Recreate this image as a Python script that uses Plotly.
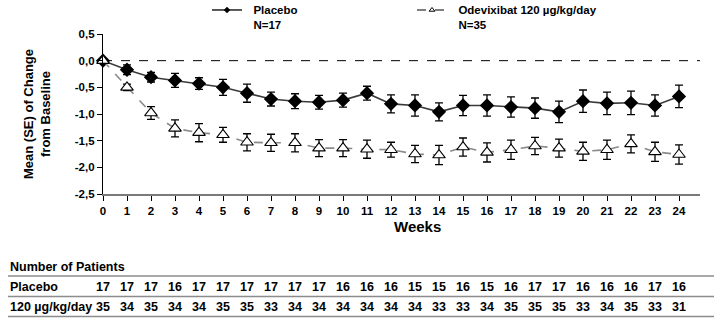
import plotly.graph_objects as go

# Weekly change from baseline, mean and standard error
weeks = list(range(25))
placebo_mean = [0, -0.17, -0.31, -0.37, -0.43, -0.50, -0.61, -0.72, -0.76, -0.78, -0.74, -0.61, -0.81,
                -0.84, -0.96, -0.84, -0.84, -0.87, -0.89, -0.96, -0.76, -0.80, -0.79, -0.84, -0.67]
placebo_se = [0, 0.09, 0.09, 0.13, 0.11, 0.15, 0.17, 0.13, 0.14, 0.13, 0.13, 0.13, 0.17,
              0.20, 0.17, 0.19, 0.20, 0.19, 0.19, 0.20, 0.21, 0.21, 0.22, 0.20, 0.21]
odev_mean = [0, -0.50, -0.98, -1.27, -1.35, -1.39, -1.53, -1.54, -1.54, -1.64, -1.64, -1.66, -1.67,
             -1.75, -1.77, -1.62, -1.72, -1.67, -1.60, -1.64, -1.70, -1.67, -1.56, -1.71, -1.76]
odev_se = [0, 0.06, 0.12, 0.16, 0.17, 0.14, 0.16, 0.16, 0.17, 0.16, 0.16, 0.17, 0.14,
           0.16, 0.18, 0.17, 0.18, 0.18, 0.16, 0.17, 0.17, 0.18, 0.17, 0.18, 0.18]

# Number of patients per visit
n_placebo = [17, 17, 17, 16, 17, 17, 17, 17, 17, 17, 16, 16, 16, 15, 15, 16, 15, 16, 17, 17, 16, 16, 16, 17, 16]
n_odev = [35, 34, 35, 34, 34, 35, 35, 33, 34, 34, 34, 34, 34, 34, 33, 33, 34, 35, 35, 35, 33, 34, 35, 33, 31]

y_ticks = [0.5, 0.0, -0.5, -1.0, -1.5, -2.0, -2.5]
y_tick_labels = ["0,5", "0,0", "-0,5", "-1,0", "-1,5", "-2,0", "-2,5"]
x_tick_labels = [str(w) for w in weeks]

FONT = "Arial, Liberation Sans, sans-serif"
PAD = "\u00a0\u00a0"  # extra room between legend symbol and label

# Plot area in pixels
W, H = 721, 321
L, R, T, B = 103, 21, 34, 127
pw, ph = W - L - R, H - T - B


def px_x(p):
    return (p - L) / pw


def px_y(p):
    return (H - B - p) / ph


fig = go.Figure()

fig.add_trace(go.Scatter(
    x=weeks, y=placebo_mean, mode="lines+markers", showlegend=False,
    line=dict(color="#3a3a3a", width=1.6),
    marker=dict(symbol="diamond", size=11, color="black"),
    error_y=dict(type="data", array=placebo_se, color="black", thickness=1.3, width=4),
    cliponaxis=False,
))
fig.add_trace(go.Scatter(
    x=weeks, y=odev_mean, mode="lines+markers", showlegend=False,
    line=dict(color="#8a8a8a", width=1.6, dash="dash"),
    marker=dict(symbol="triangle-up", size=11, color="white", line=dict(color="black", width=1.1)),
    error_y=dict(type="data", array=odev_se, color="black", thickness=1.3, width=4),
    cliponaxis=False,
))

# Legend entries
fig.add_trace(go.Scatter(
    x=[None], y=[None], mode="lines+markers", name=PAD + "Placebo<br>" + PAD + "N=17",
    line=dict(color="black", width=1.3),
    marker=dict(symbol="diamond", size=5, color="black"),
))
fig.add_trace(go.Scatter(
    x=[None], y=[None], mode="lines+markers",
    name=PAD + "Odevixibat 120 µg/kg/day<br>" + PAD + "N=35",
    line=dict(color="#555555", width=1.3, dash="dash"),
    marker=dict(symbol="triangle-up", size=5, color="white", line=dict(color="black", width=1)),
))

shapes = [
    # zero reference line
    dict(type="line", xref="x", yref="y", x0=0, x1=24.875, y0=0, y1=0,
         line=dict(color="black", width=1, dash="dash"), layer="below"),
]
# table rules
for py in (276, 296.5, 316.5):
    shapes.append(dict(type="line", xref="paper", yref="paper", x0=px_x(8), x1=px_x(714),
                       y0=px_y(py), y1=px_y(py), line=dict(color="#8c8c8c", width=1.5)))

tfont = dict(family=FONT, size=12.5, color="black", weight="bold")
annotations = [
    dict(text="Mean (SE) of Change<br>from Baseline", xref="paper", yref="paper",
         x=px_x(37), y=px_y(114), xanchor="center", yanchor="middle", textangle=-90,
         showarrow=False, font=dict(family=FONT, size=13, color="black", weight="bold")),
    dict(text="Weeks", xref="paper", yref="paper", x=px_x(417), y=px_y(226),
         xanchor="center", yanchor="middle", showarrow=False,
         font=dict(family=FONT, size=15, color="black", weight="bold")),
    dict(text="Number of Patients", xref="paper", yref="paper", x=px_x(8), y=px_y(267),
         xanchor="left", yanchor="middle", showarrow=False, font=tfont),
    dict(text="Placebo", xref="paper", yref="paper", x=px_x(8), y=px_y(287),
         xanchor="left", yanchor="middle", showarrow=False, font=tfont),
    dict(text="120 µg/kg/day", xref="paper", yref="paper", x=px_x(8), y=px_y(307),
         xanchor="left", yanchor="middle", showarrow=False, font=tfont),
]
for w, n in zip(weeks, n_placebo):
    annotations.append(dict(text=str(n), xref="x", yref="paper", x=w, y=px_y(287),
                            xanchor="center", yanchor="middle", showarrow=False, font=tfont))
for w, n in zip(weeks, n_odev):
    annotations.append(dict(text=str(n), xref="x", yref="paper", x=w, y=px_y(307),
                            xanchor="center", yanchor="middle", showarrow=False, font=tfont))

fig.update_layout(
    width=W, height=H,
    margin=dict(l=L, r=R, t=T, b=B, autoexpand=False),
    paper_bgcolor="white", plot_bgcolor="white",
    font=dict(family=FONT, color="black"),
    showlegend=True,
    legend=dict(orientation="h", x=px_x(207), y=px_y(-4), xanchor="left", yanchor="top",
                valign="top", entrywidth=160, entrywidthmode="pixels", itemwidth=30,
                font=dict(family=FONT, size=11.5, color="black", weight="bold"),
                bgcolor="rgba(0,0,0,0)", tracegroupgap=0),
    xaxis=dict(range=[0, 24.875], tickvals=weeks, ticktext=x_tick_labels, ticks="outside",
               ticklen=5, tickwidth=1, tickcolor="black", showline=True, linecolor="#7a7a7a",
               linewidth=2, showgrid=False, zeroline=False,
               tickfont=dict(family=FONT, size=11.5, color="black", weight="bold")),
    yaxis=dict(range=[-2.5, 0.5], tickvals=y_ticks, ticktext=y_tick_labels, ticks="outside",
               ticklen=5, tickwidth=1, tickcolor="black", showline=True, linecolor="black",
               linewidth=1.3, showgrid=False, zeroline=False,
               tickfont=dict(family=FONT, size=11.5, color="black", weight="bold")),
    shapes=shapes,
    annotations=annotations,
)

fig.write_html("out.html")
